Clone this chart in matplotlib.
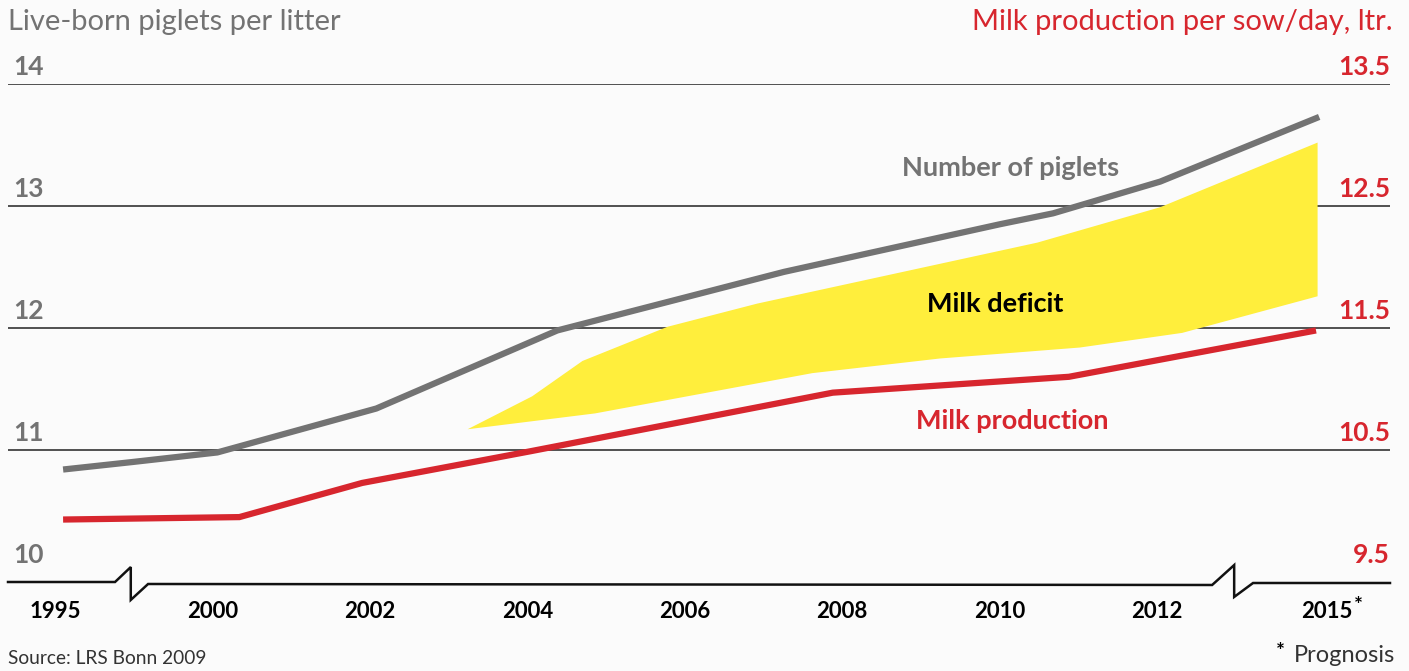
import matplotlib
matplotlib.use("Agg")
import matplotlib.pyplot as plt
import matplotlib.transforms as mtransforms

plt.rcParams['font.family'] = ['Lato', 'DejaVu Sans']

# ---------------- data ----------------
years = ["1995", "2000", "2002", "2004", "2006", "2008", "2010", "2012", "2015"]
# positions on the (broken) year axis, in tick-slot units (1995 = 0 ... 2015 ~ 8)
year_pos = [0, 1, 2, 3, 4, 5, 6, 7, 8.08]
piglets_pos = [0.05, 0.48, 1.03, 2.04, 3.19, 4.63, 6.00, 6.34, 7.02, 8.03]
piglets_val = [10.84, 10.90, 10.98, 11.34, 11.98, 12.46, 12.85, 12.94, 13.20, 13.73]

milk_pos = [0.05, 1.17, 1.95, 3.02, 4.94, 6.44, 8.01]
milk_val = [9.93, 9.95, 10.23, 10.49, 10.97, 11.10, 11.48]

deficit_top_pos = [2.62, 3.03, 3.35, 3.89, 4.46, 6.24, 7.02, 8.02]
deficit_top_val = [11.17, 11.44, 11.73, 12.01, 12.20, 12.70, 12.99, 13.52]
deficit_bot_pos = [2.62, 3.43, 4.81, 5.62, 6.51, 7.16, 8.02]
deficit_bot_val = [11.17, 11.30, 11.63, 11.75, 11.84, 11.96, 12.26]

left_ticks = [10, 11, 12, 13, 14]
right_ticks = [9.5, 10.5, 11.5, 12.5, 13.5]

GRAY = "#737373"
RED = "#d7262e"
YELLOW = "#ffee3c"
BG = "#fbfbfb"

# ---------------- figure ----------------
W, H = 1409, 671
fig = plt.figure(figsize=(W / 100, H / 100), dpi=100, facecolor=BG)

def px(x, y):
    return x / W, 1 - y / H

x0, y_top = px(8, 84)
x1, y_bot = px(1390, 582)
ax = fig.add_axes([x0, y_bot, x1 - x0, y_top - y_bot])
ax.set_facecolor(BG)
ax.set_xlim(-0.30, 8.48)
ax.set_ylim(9.918, 14.0)

ax2 = ax.twinx()
ax2.set_ylim(9.418, 13.5)

for a in (ax, ax2):
    for s in a.spines.values():
        s.set_visible(False)
    a.set_yticks([])
ax2.set_xticks([])

# grid lines (no line at 10: the broken base line sits there)
for v in left_ticks[1:]:
    ax.axhline(v, color="#222222", lw=1.1, zorder=1)

# deficit band
ax.fill(deficit_top_pos + deficit_bot_pos[::-1],
        deficit_top_val + deficit_bot_val[::-1],
        color=YELLOW, lw=0, zorder=2)

ax.plot(piglets_pos, piglets_val, color=GRAY, lw=4.5, solid_joinstyle="miter",
        solid_capstyle="butt", zorder=3)
ax2.plot(milk_pos, milk_val, color=RED, lw=4.5, solid_joinstyle="miter",
         solid_capstyle="butt", zorder=3)

# axis value labels
lab_l = mtransforms.blended_transform_factory(ax.transAxes, ax.transData)
for v in left_ticks:
    ax.text(0.004, v + 0.04, str(v), transform=lab_l, ha="left", va="bottom",
            fontsize=19, fontweight="bold", color=GRAY)
lab_r = mtransforms.blended_transform_factory(ax2.transAxes, ax2.transData)
for v in right_ticks:
    ax2.text(1.0, v + 0.04, str(v), transform=lab_r, ha="right", va="bottom",
             fontsize=19, fontweight="bold", color=RED)

# base line with two axis breaks
base = mtransforms.blended_transform_factory(ax.transData, ax.transAxes)
brk_x = [-0.30, 0.38, 0.48, 0.48, 0.59, 7.35, 7.49, 7.49, 7.61, 8.48]
brk_y = [0.0, 0.0, 0.030, -0.036, -0.004, -0.006, 0.034, -0.030, -0.002, -0.002]
ax.plot(brk_x, brk_y, color="#111111", lw=1.8, transform=base, clip_on=False,
        zorder=4, solid_joinstyle="miter")

ax.set_xticks(year_pos)
ax.set_xticklabels(years, fontsize=16, fontweight="bold")
ax.tick_params(axis="x", length=0, pad=14)
ax.text(8.25, 9.80, "*", fontsize=15, fontweight="bold", va="top", ha="left")

# series labels
ax.text(6.07, 13.31, "Number of piglets", ha="center", va="center",
        fontsize=19.5, fontweight="bold", color=GRAY)
ax.text(5.97, 12.2, "Milk deficit", ha="center", va="center",
        fontsize=19.5, fontweight="bold", color="black")
ax.text(6.08, 11.24, "Milk production", ha="center", va="center",
        fontsize=19.5, fontweight="bold", color=RED)

# titles and notes
fig.text(*px(8, 22), "Live-born piglets per litter", ha="left", va="center",
         fontsize=21, color=GRAY)
fig.text(*px(1393, 22), "Milk production per sow/day, ltr.", ha="right",
         va="center", fontsize=21, color=RED)
fig.text(*px(8, 659), "Source: LRS Bonn 2009", ha="left", va="center",
         fontsize=13.8, color="#333333")
fig.text(*px(1395, 655), "Prognosis", ha="right", va="center",
         fontsize=17, color="#333333")
fig.text(*px(1276, 652), "*", ha="left", va="center", fontsize=15,
         fontweight="bold", color="black")

fig.savefig("out.png", dpi=100, facecolor=BG)
